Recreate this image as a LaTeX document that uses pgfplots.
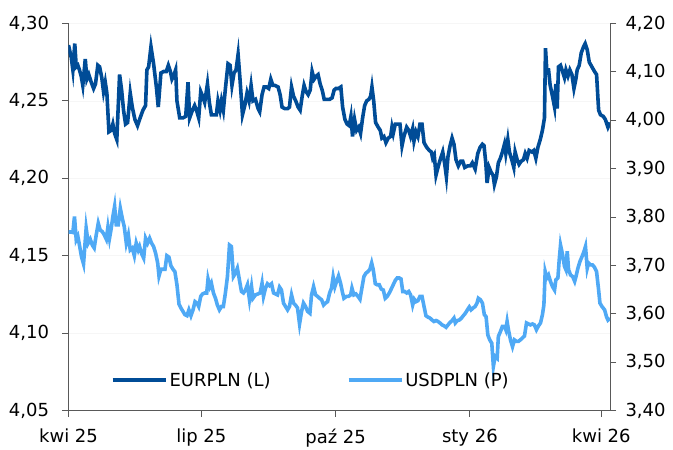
\documentclass[border=0pt]{standalone}
\usepackage{pgfplots}
\pgfplotsset{compat=1.18}
\usepackage{pgfplotstable}
\usepackage{fontspec}
\setmainfont{DejaVu Sans}

\definecolor{eurblue}{HTML}{004C97}
\definecolor{usdblue}{HTML}{4FA9F5}
\definecolor{axisgray}{HTML}{595959}

% x = days since 1 Apr 2025
\pgfplotstableread{
d v
0 4.286
1.9 4.278
3.0 4.270
4.3 4.287
5.3 4.272
6.4 4.273
7.5 4.270
8.7 4.266
9.8 4.260
11.5 4.277
12.6 4.264
13.9 4.267
15.6 4.262
17.2 4.258
18.5 4.261
20.1 4.273
21.3 4.272
22.8 4.265
24.0 4.256
25.2 4.262
26.3 4.255
27.7 4.230
29.3 4.231
30.4 4.235
31.6 4.229
33.1 4.225
35.0 4.267
36.4 4.257
37.7 4.244
39.1 4.235
40.5 4.236
42.3 4.255
43.7 4.246
45.5 4.238
47.3 4.234
48.7 4.238
51.0 4.244
52.8 4.247
53.7 4.270
54.9 4.272
56.5 4.285
58.3 4.274
60.2 4.259
61.5 4.246
63.3 4.268
65.2 4.269
67.0 4.269
68.4 4.273
69.8 4.269
70.9 4.264
72.0 4.266
73.4 4.270
74.3 4.250
76.2 4.239
78.4 4.239
80.3 4.240
81.9 4.262
83.0 4.239
84.9 4.244
86.4 4.247
88.0 4.243
89.2 4.239
90.6 4.256
91.9 4.253
93.3 4.249
95.2 4.261
96.5 4.249
97.9 4.241
99.7 4.241
101.3 4.241
102.4 4.250
103.8 4.244
104.8 4.250
106.1 4.244
107.5 4.258
109.3 4.274
110.7 4.273
112.0 4.260
113.4 4.268
114.8 4.270
116.2 4.280
117.5 4.264
119.2 4.241
120.8 4.247
122.3 4.255
123.7 4.250
125.1 4.260
126.4 4.250
128.1 4.251
129.9 4.245
131.0 4.243
132.6 4.254
134.0 4.259
135.6 4.259
137.2 4.258
138.6 4.264
140.0 4.260
141.5 4.260
143.6 4.259
145.0 4.254
146.3 4.246
148.2 4.245
150.1 4.245
151.4 4.246
152.8 4.259
154.2 4.253
155.7 4.250
157.3 4.246
158.7 4.244
160.1 4.253
161.4 4.260
162.8 4.256
164.2 4.254
165.6 4.257
166.9 4.269
168.3 4.264
169.7 4.266
171.0 4.267
172.4 4.261
173.8 4.257
175.2 4.251
177.0 4.251
178.9 4.251
180.6 4.252
182.0 4.257
183.2 4.258
185.0 4.258
186.6 4.259
187.8 4.246
189.4 4.238
190.9 4.235
192.3 4.234
193.5 4.240
194.6 4.227
196.0 4.238
197.4 4.231
198.8 4.233
200.1 4.229
201.5 4.239
202.9 4.247
204.3 4.250
205.8 4.251
207.0 4.253
207.9 4.259
209.1 4.250
210.4 4.236
212.2 4.233
213.6 4.231
214.7 4.226
216.1 4.227
217.5 4.223
219.1 4.226
220.7 4.227
221.6 4.233
222.5 4.229
223.9 4.235
225.2 4.235
227.1 4.235
228.5 4.221
229.8 4.227
231.7 4.233
233.1 4.231
234.4 4.227
235.8 4.232
236.7 4.224
238.1 4.230
239.4 4.227
240.8 4.235
242.2 4.235
243.6 4.223
245.4 4.220
247.2 4.218
248.6 4.217
249.5 4.213
250.6 4.215
251.8 4.202
253.4 4.208
255.0 4.213
256.4 4.217
257.8 4.209
258.9 4.201
260.0 4.214
261.4 4.221
262.8 4.226
264.1 4.222
265.5 4.212
267.1 4.208
268.7 4.211
270.1 4.211
271.5 4.207
273.5 4.208
275.3 4.208
276.7 4.210
278.6 4.206
280.4 4.216
282.0 4.220
283.6 4.222
284.7 4.221
285.9 4.210
286.8 4.197
288.2 4.207
289.5 4.204
290.9 4.202
291.8 4.196
293.2 4.201
294.5 4.210
295.9 4.213
297.3 4.217
298.7 4.222
299.6 4.216
301.0 4.225
302.1 4.217
303.7 4.212
305.1 4.207
306.0 4.217
307.4 4.212
308.7 4.209
310.1 4.211
311.7 4.212
312.9 4.216
314.2 4.213
315.6 4.218
317.5 4.217
318.8 4.218
320.2 4.213
321.6 4.220
323.2 4.225
324.7 4.231
326.1 4.239
326.8 4.284
327.7 4.270
328.9 4.270
330.0 4.260
331.6 4.253
333.0 4.246
333.9 4.261
334.8 4.245
335.7 4.272
337.1 4.273
338.5 4.269
339.8 4.265
340.8 4.270
342.2 4.266
343.5 4.270
344.9 4.267
346.3 4.258
347.6 4.264
348.5 4.270
349.9 4.273
351.3 4.281
352.9 4.285
354.0 4.287
355.4 4.283
356.8 4.275
358.6 4.272
360.4 4.269
361.8 4.267
363.2 4.244
364.5 4.241
366.4 4.240
367.8 4.238
369.6 4.233
371.0 4.236
}\eurpln

\pgfplotstableread{
d v
0 3.769
1.9 3.769
3.0 3.768
4.1 3.801
5.3 3.753
6.4 3.760
7.5 3.742
8.9 3.718
10.3 3.703
12.1 3.777
13.5 3.746
14.9 3.754
16.3 3.742
17.6 3.736
19.0 3.763
20.4 3.787
21.7 3.773
23.1 3.770
24.5 3.763
25.9 3.754
27.0 3.779
28.1 3.756
29.3 3.777
30.4 3.801
31.6 3.822
32.7 3.784
34.1 3.784
35.5 3.818
36.8 3.798
38.2 3.780
39.6 3.746
41.0 3.763
42.3 3.732
43.7 3.736
45.1 3.720
46.4 3.746
47.8 3.732
48.7 3.739
50.1 3.724
51.5 3.715
52.8 3.756
54.2 3.746
55.6 3.756
56.9 3.746
58.3 3.739
59.7 3.725
61.1 3.705
62.0 3.678
63.3 3.692
64.7 3.692
66.1 3.692
67.4 3.720
68.8 3.717
70.2 3.699
71.6 3.692
72.9 3.687
74.3 3.660
75.7 3.620
77.0 3.612
78.4 3.605
79.8 3.598
81.2 3.596
82.5 3.608
83.9 3.596
85.3 3.608
86.7 3.625
88.0 3.622
89.2 3.615
90.6 3.636
91.9 3.641
93.3 3.643
94.7 3.643
95.6 3.672
96.9 3.656
97.9 3.663
99.3 3.643
100.7 3.632
102.0 3.618
103.4 3.608
104.8 3.615
106.1 3.615
107.5 3.643
108.9 3.677
110.3 3.742
111.6 3.739
113.0 3.677
114.4 3.684
115.7 3.694
117.1 3.670
118.5 3.646
119.9 3.643
121.2 3.649
122.6 3.660
124.0 3.629
125.4 3.656
126.4 3.632
128.1 3.639
129.9 3.641
131.3 3.643
132.6 3.663
133.6 3.636
135.0 3.653
136.3 3.662
137.7 3.658
139.1 3.662
140.5 3.643
141.8 3.641
143.2 3.639
144.6 3.655
145.9 3.649
147.3 3.622
148.7 3.615
150.1 3.608
151.4 3.615
152.8 3.639
154.2 3.622
155.5 3.618
156.9 3.612
158.3 3.579
159.7 3.605
161.0 3.622
162.4 3.615
163.8 3.605
165.4 3.601
166.5 3.639
167.9 3.656
169.3 3.639
170.6 3.636
172.0 3.632
173.4 3.629
174.8 3.618
176.1 3.622
177.5 3.625
178.9 3.643
180.2 3.653
181.3 3.676
182.5 3.656
183.7 3.667
185.0 3.678
186.4 3.663
187.8 3.643
188.7 3.632
190.5 3.636
191.9 3.636
193.3 3.639
194.2 3.653
195.5 3.639
196.9 3.641
198.3 3.636
199.7 3.630
201.0 3.653
202.4 3.677
203.8 3.684
205.1 3.687
206.5 3.692
207.7 3.705
208.8 3.691
210.2 3.662
211.5 3.660
212.9 3.660
214.3 3.651
215.7 3.649
217.0 3.632
218.4 3.636
219.8 3.643
221.1 3.651
222.5 3.660
223.9 3.669
225.2 3.674
226.6 3.674
227.8 3.672
229.0 3.646
230.3 3.646
231.7 3.643
233.1 3.646
234.4 3.639
235.8 3.618
236.9 3.630
238.1 3.625
239.4 3.627
240.8 3.636
242.2 3.636
243.6 3.615
244.9 3.596
246.3 3.593
247.7 3.591
249.1 3.587
250.4 3.584
251.8 3.586
253.2 3.584
254.5 3.581
255.9 3.577
257.3 3.575
258.7 3.572
260.0 3.577
261.4 3.582
262.8 3.586
264.1 3.591
265.0 3.581
266.4 3.586
267.8 3.587
269.2 3.591
270.5 3.596
271.9 3.601
273.3 3.608
274.6 3.614
275.8 3.608
277.2 3.612
278.6 3.615
279.9 3.622
280.8 3.632
282.2 3.629
283.6 3.622
284.9 3.598
286.1 3.594
287.3 3.556
288.6 3.546
290.0 3.539
291.1 3.491
292.3 3.512
293.7 3.508
294.5 3.553
295.9 3.563
297.3 3.574
298.7 3.574
299.6 3.567
300.5 3.584
301.4 3.567
302.8 3.546
304.2 3.532
305.5 3.546
306.9 3.543
308.3 3.543
309.6 3.546
311.0 3.550
312.4 3.554
313.8 3.581
315.1 3.579
316.5 3.577
317.9 3.579
319.2 3.577
320.6 3.567
322.0 3.575
323.4 3.581
324.7 3.598
325.7 3.618
326.6 3.687
327.7 3.674
328.9 3.680
330.2 3.667
331.6 3.656
333.0 3.649
333.9 3.670
335.3 3.674
336.2 3.711
337.1 3.742
338.5 3.722
339.8 3.698
340.8 3.691
341.7 3.729
342.6 3.691
344.0 3.680
345.4 3.677
346.8 3.667
347.7 3.677
349.0 3.694
350.4 3.708
351.8 3.718
353.2 3.729
354.2 3.739
355.4 3.694
356.3 3.705
357.7 3.701
359.0 3.701
360.4 3.696
361.8 3.687
363.2 3.649
364.1 3.622
365.5 3.615
367.3 3.608
368.7 3.593
369.6 3.587
371.0 3.591
}\usdpln

\begin{document}
\begin{tikzpicture}
\pgfplotsset{
  every axis/.append style={
    width=541.5bp, height=387bp, scale only axis,
    xmin=0, xmax=371,
    font=\fontsize{18bp}{22bp}\selectfont,
    axis line style={draw=axisgray, line width=1bp},
    tick style={draw=axisgray, line width=1bp},
    tick align=outside, major tick length=6bp,
    /pgf/number format/use comma,
    /pgf/number format/fixed,
    /pgf/number format/fixed zerofill,
    /pgf/number format/precision=2,
    /pgf/number format/assume math mode=true,
  },
}
\begin{axis}[
    axis x line*=bottom, axis y line*=left,
    ymin=4.05, ymax=4.30,
    ytick={4.05,4.10,4.15,4.20,4.25,4.30},
    xtick={0,91,183,275,365},
    xticklabels={kwi 25, lip 25, paź 25, sty 26, kwi 26},
    yticklabel style={xshift=-10bp},
    xticklabel style={yshift=-9bp},
    ymajorgrids, grid style={gray!7, line width=0.6bp},
]
\addplot[eurblue, line width=3.6bp] table[x=d, y=v] {\eurpln};
\end{axis}
\begin{axis}[
    axis x line=none, axis y line*=right,
    ymin=3.40, ymax=4.20,
    ytick={3.40,3.50,3.60,3.70,3.80,3.90,4.00,4.10,4.20},
    yticklabel style={xshift=6bp},
    legend columns=2,
    legend style={draw=none, fill=none, inner sep=0pt,
      at={(rel axis cs:0.078,0.079)}, anchor=west,
      /tikz/every even column/.append style={column sep=74bp}},
    legend image code/.code={\draw[#1] (0bp,0bp) -- (53bp,0bp);},
]
\addlegendimage{eurblue, line width=3.6bp}
\addlegendentry{EURPLN (L)}
\addplot[usdblue, line width=3.6bp] table[x=d, y=v] {\usdpln};
\addlegendentry{USDPLN (P)}
\end{axis}
\pgfresetboundingbox
\path (-68.5bp,-39.5bp) rectangle (604.5bp,410.5bp);
\end{tikzpicture}
\end{document}
